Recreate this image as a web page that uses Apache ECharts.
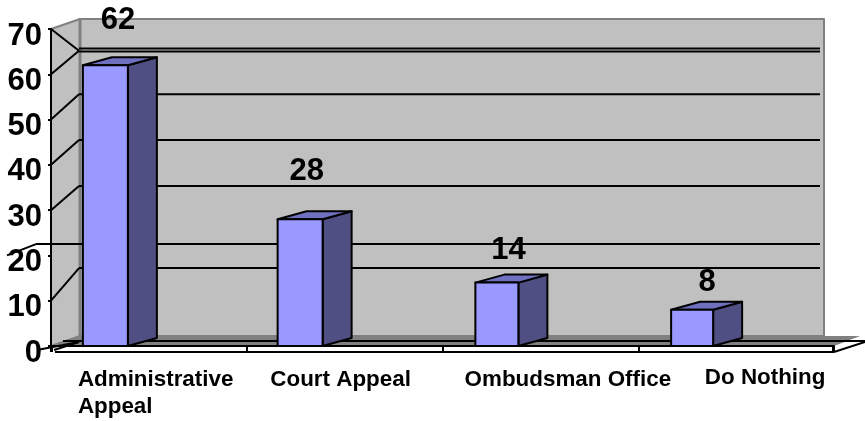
<!DOCTYPE html>
<html><head><meta charset="utf-8">
<style>html,body{margin:0;padding:0;background:#fff}#c{width:865px;height:421px}</style>
<script src="https://cdn.jsdelivr.net/npm/echarts@6/dist/echarts.min.js"></script>
</head><body><div id="c"></div>
<script>
const categories = ['Administrative\nAppeal', 'Court Appeal', 'Ombudsman Office', 'Do Nothing'];
const values = [62, 28, 14, 8];
const yTicks = [0, 10, 20, 30, 40, 50, 60, 70];
// horizontal rules as they appear on the back wall, in axis units
const wallLines = [15, 20.3, 33.1, 43.3, 53.4, 62.8, 63.5];

// layout
const FONT = '"Liberation Sans", Arial, sans-serif';
const WALL = {dx: 29, dy: -10};
const BAR = {dx: 29, dy: -8, shift: -22};
const barWidth = [45, 45, 43, 42];
const barRightNudge = [1, 0, 0, -1];
const labelPad = [[2,0,0,12],[2,8,0,0],[2,0,0,55],[0,0,0,58]];
const valueOffset = [[13,-45],[6,-48],[12,-32],[15,-27]];

const line = (x1,y1,x2,y2,w,c) => ({type:'line',shape:{x1,y1,x2,y2},style:{stroke:c||'#000',lineWidth:w||2}});
const poly = (points,fill,stroke,w) => ({type:'polygon',shape:{points},style:{fill,stroke:stroke||'none',lineWidth:w||0,lineJoin:'round'}});

function renderChrome(params, api){
  const g = params.coordSys, L=g.x, T=g.y, R=g.x+g.width, B=g.y+g.height;
  const bx=L+WALL.dx, by=B+WALL.dy, ty=T+WALL.dy, rx=R-10;
  const kids = [
    poly([[L,T],[bx,ty],[bx,by],[L,B]],'#c0c0c0','#808080',2),
    poly([[bx,ty],[rx,ty],[rx,by],[bx,by]],'#c0c0c0','#808080',2),
    line(bx,ty,bx,by,3,'#808080'),
    poly([[L,B],[bx,by],[R+26,by],[R,B]],'#808080'),
    poly([[L+4,B],[R,B],[R,B+6],[L+4,B+6]],'#fff'),
    line(L+4,B+6,R,B+6),
    line(R,B+6,R+31,B-4),
    line(L+12,B-5,R+31,B-5),
    line(R-1,B,R-1,B+6)
  ];
  wallLines.forEach(v=>{
    const y = api.coord([0,v])[1]+WALL.dy;
    kids.push(line(bx-1,y,rx-4,y));
  });
  return {type:'group',children:kids};
}

function renderBar(params, api){
  const i = api.value(0), v = api.value(1);
  const top = api.coord([i,v]), base = api.coord([i,0]);
  const x1 = top[0]+BAR.shift+barRightNudge[i], x0 = x1-barWidth[i], y0 = top[1], y1 = base[1];
  const s = {stroke:'#000',w:2};
  const off = valueOffset[i];
  return {type:'group',children:[
    poly([[x1,y0],[x1+BAR.dx,y0+BAR.dy],[x1+BAR.dx,y1+BAR.dy],[x1,y1]],'#4f4f83',s.stroke,s.w),
    poly([[x0,y0],[x0+BAR.dx,y0+BAR.dy],[x1+BAR.dx,y0+BAR.dy],[x1,y0]],'#7070c0',s.stroke,s.w),
    poly([[x0,y0],[x1,y0],[x1,y1],[x0,y1]],'#9999ff',s.stroke,s.w),
    {type:'text',style:{text:String(v),x:top[0]-44+off[0],y:top[1]+off[1],
      align:'center',verticalAlign:'middle',fill:'#000',font:'bold 31px '+FONT}}
  ]};
}

function renderOverlay(params, api){
  const g = params.coordSys, L=g.x, B=g.y+g.height;
  const bx=L+WALL.dx-1;
  const at = v => api.coord([0,v])[1];
  const wall = v => at(v)+WALL.dy;
  return {type:'group',children:[
    line(L,at(70),bx,wall(63)),
    line(L,at(60),bx,wall(63)),
    line(L,at(50),bx,wall(53.4)),
    line(L,at(40),bx,wall(43.3)),
    line(L,at(30),bx,wall(33.1)),
    line(L,at(10),bx,wall(15)),
    line(L-44,at(20),L-15,wall(20.3)),
    line(L-15,wall(20.3),bx,wall(20.3)),
    line(L-14,B+4,bx,B-4),
    line(L+3,B+4,bx,B-4),
    line(L+1,B,L+1,B+6)
  ]};
}

const chart = echarts.init(document.getElementById('c'),null,{renderer:'canvas'});
chart.setOption({
  animation:false,
  backgroundColor:'#fff',
  grid:{left:51,right:31,top:29,bottom:75,containLabel:false,outerBoundsMode:'none'},
  xAxis:{type:'category',z:2,
    data:categories.map((c,i)=>({value:c,textStyle:{padding:labelPad[i]}})),
    axisLine:{show:true,lineStyle:{color:'#000',width:2}},
    axisTick:{show:true,length:6,lineStyle:{color:'#000',width:2}},
    axisLabel:{interval:0,margin:18,hideOverlap:false,align:'center',
      color:'#000',fontFamily:FONT,fontWeight:'bold',fontSize:22.4,lineHeight:27,
      formatter:(v)=>{const p=v.split('\n');return p.length>1?`{a|${p[0]}}\n{b|${p[1]}}`:v;},
      rich:{a:{width:154,align:'left',fontSize:22.4,fontWeight:'bold',fontFamily:FONT,lineHeight:27},
            b:{width:154,align:'left',fontSize:22.4,fontWeight:'bold',fontFamily:FONT,lineHeight:27}}},
    splitLine:{show:false}},
  yAxis:{type:'value',z:2,min:0,max:70,interval:10,
    axisLine:{show:true,lineStyle:{color:'#000',width:2}},
    axisTick:{show:true,length:3,lineStyle:{color:'#000',width:2}},
    axisLabel:{margin:9,color:'#000',fontFamily:FONT,fontWeight:'bold',fontSize:31,verticalAlign:'top',lineHeight:14,
      customValues:yTicks},
    splitLine:{show:false}},
  series:[
    {type:'custom',name:'walls',z:1,silent:true,clip:false,renderItem:renderChrome,
      encode:{x:0,y:1},data:[[0,0]]},
    {type:'custom',name:'values',z:3,silent:true,clip:false,renderItem:renderBar,
      encode:{x:0,y:1},data:values.map((v,i)=>[i,v])},
    {type:'custom',name:'rules',z:4,silent:true,clip:false,renderItem:renderOverlay,
      encode:{x:0,y:1},data:[[0,0]]}
  ]
});
</script></body></html>
